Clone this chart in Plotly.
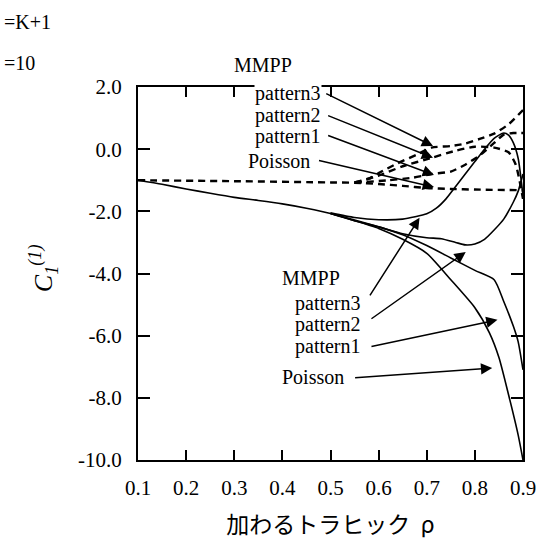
import plotly.graph_objects as go

# --- solid curves (lower family) ---
poisson_s_x = [0.1, 0.15, 0.2, 0.25, 0.3, 0.35, 0.4, 0.45, 0.5, 0.55, 0.6, 0.65, 0.7, 0.75, 0.8, 0.83, 0.85, 0.87, 0.89, 0.9]
poisson_s_y = [-1.0, -1.13, -1.28, -1.42, -1.55, -1.65, -1.76, -1.9, -2.07, -2.3, -2.55, -2.9, -3.35, -4.2, -5.1, -5.9, -6.7, -7.9, -9.2, -10.0]

p1_s_x = [0.5, 0.55, 0.6, 0.65, 0.7, 0.75, 0.8, 0.84, 0.86, 0.88, 0.89, 0.9]
p1_s_y = [-2.07, -2.28, -2.5, -2.75, -3.1, -3.5, -3.9, -4.2, -4.9, -5.7, -6.2, -7.1]

p2_s_x = [0.5, 0.55, 0.6, 0.65, 0.7, 0.73, 0.76, 0.78, 0.8, 0.82, 0.84, 0.86, 0.88, 0.89, 0.9]
p2_s_y = [-2.07, -2.3, -2.5, -2.72, -2.85, -2.88, -3.0, -3.08, -3.05, -2.9, -2.6, -2.25, -1.7, -1.35, -0.8]

p3_s_x = [0.5, 0.55, 0.6, 0.65, 0.7, 0.72, 0.74, 0.76, 0.78, 0.8, 0.82, 0.84, 0.86, 0.87, 0.88, 0.89, 0.9]
p3_s_y = [-2.05, -2.2, -2.27, -2.25, -2.08, -1.9, -1.6, -1.2, -0.8, -0.4, 0.0, 0.35, 0.52, 0.45, 0.2, -0.3, -1.5]

# --- dashed curves (upper family) ---
poisson_d_x = [0.1, 0.3, 0.5, 0.55, 0.6, 0.65, 0.7, 0.75, 0.8, 0.9]
poisson_d_y = [-1.0, -1.03, -1.07, -1.08, -1.12, -1.18, -1.25, -1.28, -1.3, -1.32]

p1_d_x = [0.55, 0.62, 0.67, 0.71, 0.75, 0.78, 0.81, 0.84, 0.86, 0.88, 0.9]
p1_d_y = [-1.08, -1.0, -0.92, -0.8, -0.72, -0.5, -0.2, 0.2, 0.47, 0.52, 0.52]

p2_d_x = [0.55, 0.6, 0.65, 0.71, 0.76, 0.8, 0.84, 0.87, 0.885, 0.9]
p2_d_y = [-1.07, -0.85, -0.55, -0.28, -0.05, 0.08, 0.05, -0.1, -0.5, -1.6]

p3_d_x = [0.55, 0.58, 0.6, 0.64, 0.68, 0.71, 0.75, 0.78, 0.81, 0.84, 0.87, 0.9]
p3_d_y = [-1.07, -0.95, -0.77, -0.45, -0.17, 0.05, 0.1, 0.18, 0.33, 0.5, 0.8, 1.26]

x_ticks = [0.1, 0.2, 0.3, 0.4, 0.5, 0.6, 0.7, 0.8, 0.9]
y_ticks = [2.0, 0.0, -2.0, -4.0, -6.0, -8.0, -10.0]

SERIF = "Liberation Serif, Times New Roman, DejaVu Serif, serif"
fig = go.Figure()

solid = dict(color="black", width=1.6)
dashed = dict(color="black", width=2.4, dash="7px,5px")

for xs, ys in [(poisson_s_x, poisson_s_y), (p1_s_x, p1_s_y), (p2_s_x, p2_s_y), (p3_s_x, p3_s_y)]:
    fig.add_trace(go.Scatter(x=xs, y=ys, mode="lines", line=dict(shape="spline", smoothing=0.6, **solid),
                             showlegend=False, hoverinfo="skip"))
for xs, ys in [(poisson_d_x, poisson_d_y), (p1_d_x, p1_d_y), (p2_d_x, p2_d_y), (p3_d_x, p3_d_y)]:
    fig.add_trace(go.Scatter(x=xs, y=ys, mode="lines", line=dict(shape="spline", smoothing=0.6, **dashed),
                             showlegend=False, hoverinfo="skip"))

font = dict(family=SERIF, size=20, color="black")
tick_font = dict(family=SERIF, size=21, color="black")

# text labels (data coordinates)
labels = [
    ("pattern3", 0.412, 1.78, True),
    ("pattern2", 0.412, 1.08, False),
    ("pattern1", 0.412, 0.42, False),
    ("Poisson", 0.392, -0.37, False),
    ("MMPP", 0.459, -4.14, False),
    ("pattern3", 0.494, -4.95, False),
    ("pattern2", 0.494, -5.65, False),
    ("pattern1", 0.494, -6.36, False),
    ("Poisson", 0.463, -7.32, False),
]
for txt, lx, ly, bg in labels:
    fig.add_annotation(x=lx, y=ly, xref="x", yref="y", text=txt, showarrow=False, font=font,
                       bgcolor="white" if bg else "rgba(0,0,0,0)", borderpad=0)

# heading above the upper group sits outside the plotting range
fig.add_annotation(x=0.36, y=1.06, xref="x", yref="paper", yanchor="middle", text="MMPP",
                   showarrow=False, font=font)

# arrows: (tail x, tail y, tip x, tip y)
arrows = [
    (0.488, 1.81, 0.713, 0.10),
    (0.492, 1.10, 0.713, -0.28),
    (0.492, 0.46, 0.715, -0.83),
    (0.473, -0.35, 0.715, -1.22),
    (0.580, -4.75, 0.685, -2.21),
    (0.582, -5.49, 0.781, -3.31),
    (0.582, -6.36, 0.847, -5.49),
    (0.548, -7.36, 0.836, -7.04),
]
for tx, ty, hx, hy in arrows:
    fig.add_annotation(x=hx, y=hy, ax=tx, ay=ty, xref="x", yref="y", axref="x", ayref="y",
                       text="", showarrow=True, arrowhead=2, arrowsize=1.5, arrowwidth=1.5,
                       arrowcolor="black")

# corner notes and axis title
fig.add_annotation(x=-0.354, y=1.174, xref="paper", yref="paper", yanchor="middle", xanchor="left",
                   text="=K+1", showarrow=False, font=font)
fig.add_annotation(x=-0.354, y=1.064, xref="paper", yref="paper", yanchor="middle", xanchor="left",
                   text="=10", showarrow=False, font=font)
fig.add_annotation(x=-0.246, y=0.515, xref="paper", yref="paper", yanchor="middle", xanchor="center",
                   text="<i>C</i><sub><i>1</i></sub><sup><i>(1)</i></sup>", showarrow=False,
                   textangle=-90, font=dict(family=SERIF, size=26, color="black"))

fig.update_xaxes(range=[0.1, 0.9], tickvals=x_ticks, ticktext=[f"{v:.1f}" for v in x_ticks],
                 ticks="inside", ticklen=10, tickwidth=2, tickcolor="black",
                 showline=True, linecolor="black", linewidth=2, mirror="allticks",
                 showgrid=False, zeroline=False, tickfont=tick_font, ticklabelstandoff=8,
                 title=dict(text="加わるトラヒック&nbsp;&nbsp;ρ",
                            font=dict(family="Noto Sans CJK JP", size=23, color="black"),
                            standoff=18))
fig.update_yaxes(range=[-10, 2], tickvals=y_ticks, ticktext=[f"{v:.1f}" for v in y_ticks],
                 ticks="inside", ticklen=12, tickwidth=2, tickcolor="black",
                 showline=True, linecolor="black", linewidth=2, mirror="allticks",
                 showgrid=False, zeroline=False, tickfont=tick_font, ticklabelstandoff=10)

fig.update_layout(width=548, height=549, margin=dict(l=138, r=20, t=87, b=89),
                  plot_bgcolor="white", paper_bgcolor="white", showlegend=False)

fig.write_html("out.html")
